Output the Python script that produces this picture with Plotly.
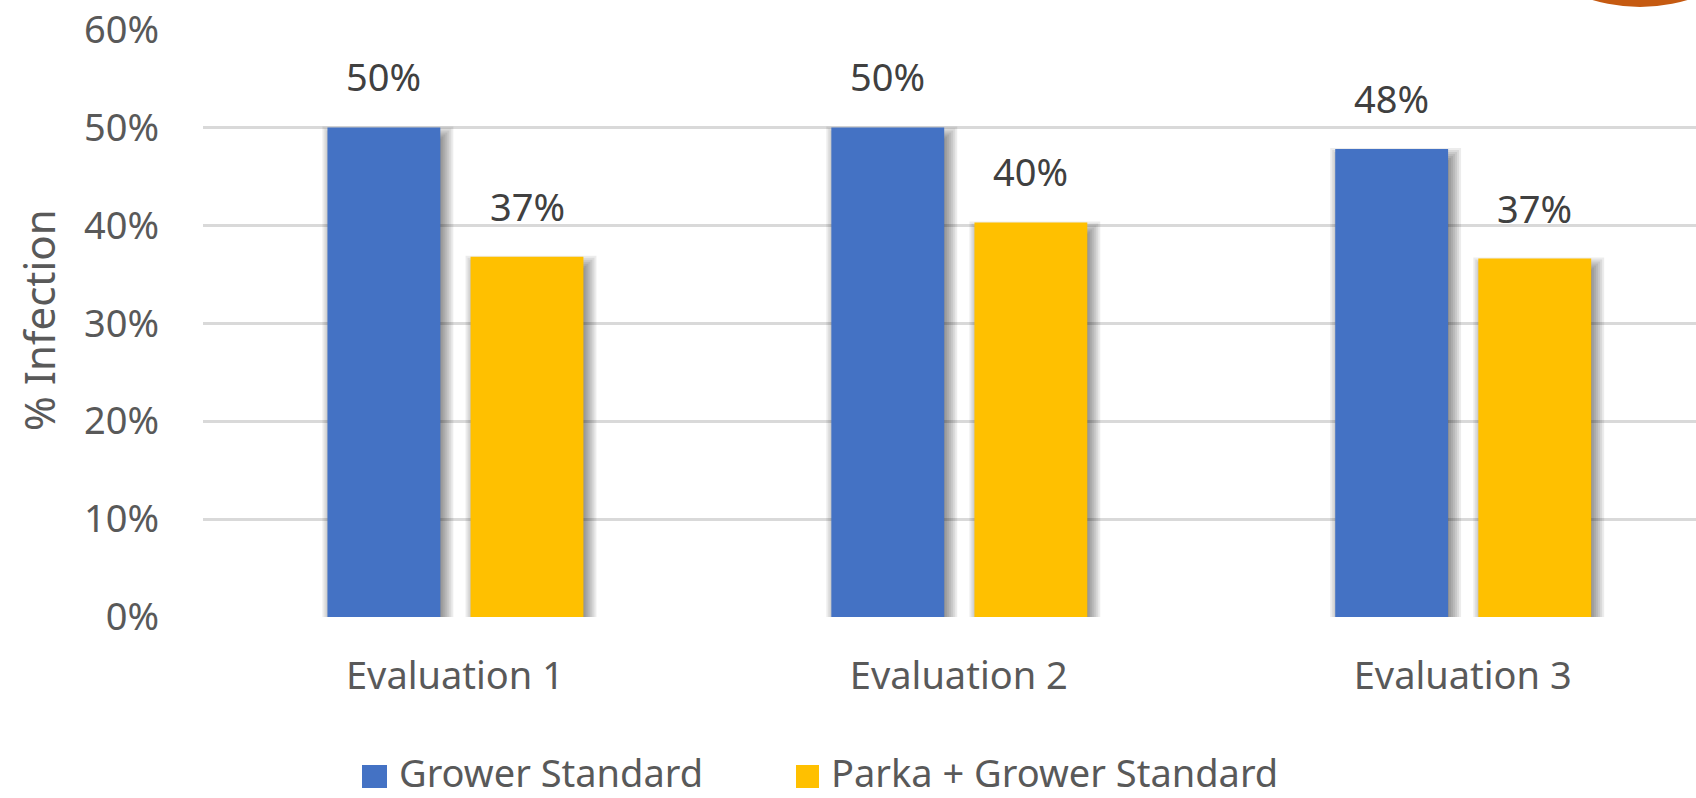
import plotly.graph_objects as go

# Data
categories = ["Evaluation 1", "Evaluation 2", "Evaluation 3"]
series_names = ["Grower Standard", "Parka + Grower Standard"]
grower_standard = [0.500, 0.500, 0.478]
parka_grower = [0.368, 0.403, 0.366]
y_ticks = [0.0, 0.1, 0.2, 0.3, 0.4, 0.5, 0.6]

BLUE = "#4472C4"
GOLD = "#FFC000"
AXIS_TEXT = "#595959"
LABEL_TEXT = "#404040"
FONT = "Noto Sans"

# Plot-area geometry in pixels
W_FIG, H_FIG = 1696, 798
L, R, T, B = 203, 0, 29, 181
PW = W_FIG - L - R
PH = H_FIG - T - B
X_RANGE = [-0.5, 2.463]
Y_RANGE = [0.0, 0.6]
px_u = (X_RANGE[1] - X_RANGE[0]) / PW   # x units per pixel
px_v = (Y_RANGE[1] - Y_RANGE[0]) / PH   # y units per pixel


def paper_x(px):
    return (px - L) / PW


def paper_y(py):
    return (H_FIG - B - py) / PH


bar_w = 0.224
offsets = [-0.253, 0.031]
colors = [BLUE, GOLD]
values = [grower_standard, parka_grower]

fig = go.Figure()

# Soft drop shadow: stacked translucent layers offset right/down
dx, dy = 4, 8
spreads = [-3, -1, 1, 3, 5, 7, 9]
for vals, off in zip(values, offsets):
    for e in spreads:
        fig.add_trace(go.Bar(
            x=categories,
            y=[v - (dy - e) * px_v for v in vals],
            offset=off + (dx - e) * px_u,
            width=bar_w + 2 * e * px_u,
            marker=dict(color="rgba(0,0,0,0.075)", line=dict(width=0)),
            showlegend=False,
            hoverinfo="skip",
        ))

# Main bars
for name, vals, off, col in zip(series_names, values, offsets, colors):
    fig.add_trace(go.Bar(
        x=categories,
        y=vals,
        name=name,
        offset=off,
        width=bar_w,
        marker=dict(color=col, line=dict(width=0)),
        showlegend=False,
    ))

annotations = []
# Value labels above bars
for vals, off in zip(values, offsets):
    for i, v in enumerate(vals):
        annotations.append(dict(
            x=i + off + bar_w / 2, y=v, xref="x", yref="y",
            text=f"{v:.0%}", showarrow=False,
            yanchor="middle", yshift=51,
            font=dict(family=FONT, size=38, color=LABEL_TEXT),
        ))

# Y-axis title
annotations.append(dict(
    x=paper_x(38), y=paper_y(320), xref="paper", yref="paper",
    text="% Infection", showarrow=False, textangle=-90,
    xanchor="center", yanchor="middle",
    font=dict(family=FONT, size=42, color=AXIS_TEXT),
))

# Legend (swatches + labels)
shapes = []
legend_sw = [(362, 387), (796, 819)]
legend_tx = [397, 829]
for (x0, x1), tx, name, col in zip(legend_sw, legend_tx, series_names, colors):
    shapes.append(dict(
        type="rect", xref="paper", yref="paper",
        x0=paper_x(x0), x1=paper_x(x1), y0=paper_y(788), y1=paper_y(765),
        fillcolor=col, line=dict(width=0),
    ))
    annotations.append(dict(
        x=paper_x(tx), y=paper_y(772), xref="paper", yref="paper",
        text=name, showarrow=False, xanchor="left", yanchor="middle",
        font=dict(family=FONT, size=38, color=AXIS_TEXT),
    ))

# Decorative orange disc peeking in at the top-right corner
shapes.append(dict(
    type="circle", xref="paper", yref="paper",
    x0=paper_x(1475), x1=paper_x(1805), y0=paper_y(7), y1=paper_y(-323),
    fillcolor="#C55A11", line=dict(width=0), layer="above",
))

fig.update_layout(
    width=W_FIG, height=H_FIG,
    margin=dict(l=L, r=R, t=T, b=B, pad=0),
    barmode="overlay",
    plot_bgcolor="white", paper_bgcolor="white",
    showlegend=False,
    annotations=annotations,
    shapes=shapes,
    font=dict(family=FONT, color=AXIS_TEXT),
)
fig.update_xaxes(
    type="category", range=X_RANGE,
    showgrid=False, zeroline=False, showline=False, ticks="",
    tickfont=dict(family=FONT, size=38, color=AXIS_TEXT),
    ticklabelstandoff=33,
)
fig.update_yaxes(
    range=[Y_RANGE[0], Y_RANGE[1] + 0.0005],
    tickvals=y_ticks, tickformat=".0%",
    showgrid=True, gridcolor="#D9D9D9", gridwidth=3,
    zeroline=False, showline=False, ticks="",
    tickfont=dict(family=FONT, size=38, color=AXIS_TEXT),
    ticklabelstandoff=43,
)

fig.write_html("out.html")
